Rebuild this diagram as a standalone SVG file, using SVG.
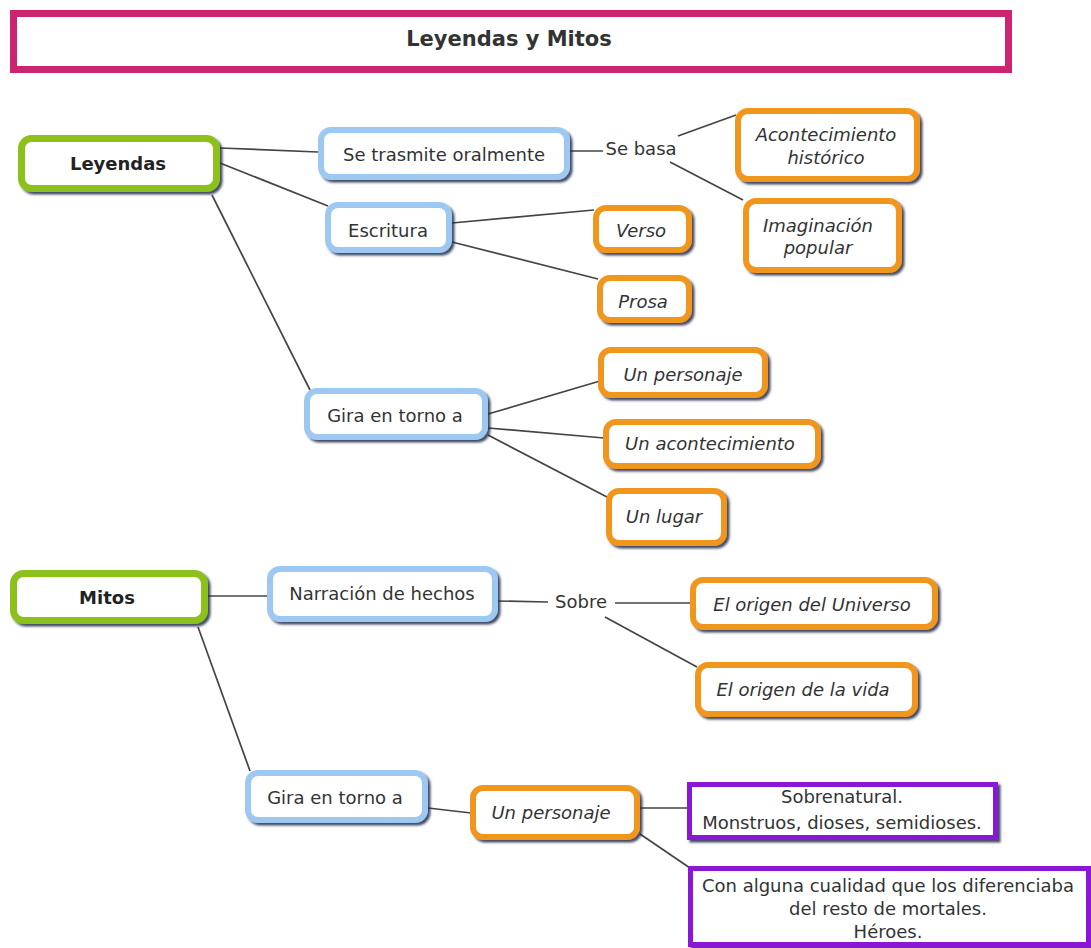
<svg xmlns="http://www.w3.org/2000/svg" width="1091" height="948" viewBox="0 0 1091 948">
<defs>
<filter id="sh" x="-10%" y="-20%" width="130%" height="150%">
<feDropShadow dx="2.5" dy="2.5" stdDeviation="1" flood-color="#1c2a4a" flood-opacity="0.85"/>
</filter>
<style>
text{font-family:"DejaVu Sans","Verdana",sans-serif;font-size:18px;fill:#333;text-anchor:middle}
.b{font-weight:bold;fill:#222}
.i{font-style:italic}
.title{font-weight:bold;font-size:21px;fill:#333}
.green{fill:#fff;stroke:#8cc11f;stroke-width:7;filter:url(#sh)}
.blue{fill:#fff;stroke:#9cc8f2;stroke-width:6;filter:url(#sh)}
.orange{fill:#fff;stroke:#f0961c;stroke-width:6;filter:url(#sh)}
.purple{fill:#fff;stroke:#8a12d6;stroke-width:5;filter:url(#sh)}
.lbl{fill:#333}
#connectors line{stroke:#444;stroke-width:1.7}
</style>
</defs>
<rect width="1091" height="948" fill="#fff"/>
<g id="connectors">
<line x1="220" y1="148" x2="318" y2="152"/>
<line x1="220" y1="163" x2="328" y2="206"/>
<line x1="212" y1="195" x2="310" y2="390"/>
<line x1="570" y1="151" x2="603" y2="151"/>
<line x1="678" y1="136" x2="736" y2="115"/>
<line x1="670" y1="162" x2="743" y2="200"/>
<line x1="452" y1="223" x2="594" y2="210"/>
<line x1="452" y1="242" x2="598" y2="279"/>
<line x1="488" y1="414" x2="600" y2="381"/>
<line x1="488" y1="428" x2="604" y2="438"/>
<line x1="488" y1="435" x2="607" y2="497"/>
<line x1="208" y1="596" x2="267" y2="596"/>
<line x1="498" y1="601" x2="548" y2="602"/>
<line x1="615" y1="603" x2="691" y2="603"/>
<line x1="605" y1="617" x2="697" y2="667"/>
<line x1="198" y1="627" x2="250" y2="771"/>
<line x1="428" y1="808" x2="471" y2="813"/>
<line x1="640" y1="808" x2="688" y2="808"/>
<line x1="640" y1="834" x2="690" y2="868"/>
</g>
<g id="title"><rect x="13.5" y="13.5" width="995" height="56" fill="#fff" stroke="#cc2470" stroke-width="7"/><text class="title" x="509" y="46">Leyendas y Mitos</text></g>
<g id="leyendas"><rect class="green" x="21.5" y="138.5" width="195" height="50" rx="10"/><text class="b" x="118" y="170">Leyendas</text></g>
<g id="trasmite"><rect class="blue" x="321" y="130" width="246" height="47" rx="10"/><text x="444" y="161">Se trasmite oralmente</text></g>
<g id="sebasa"><text class="lbl" x="641" y="155">Se basa</text></g>
<g id="acontecimiento-historico"><rect class="orange" x="738" y="111" width="179" height="68" rx="10"/><text class="i" x="826" y="141">Acontecimiento</text><text class="i" x="826" y="164">histórico</text></g>
<g id="imaginacion"><rect class="orange" x="746" y="201" width="153" height="69" rx="10"/><text class="i" x="818" y="232">Imaginación</text><text class="i" x="818" y="254">popular</text></g>
<g id="escritura"><rect class="blue" x="328" y="205" width="121" height="45" rx="10"/><text x="388" y="237">Escritura</text></g>
<g id="verso"><rect class="orange" x="596" y="208" width="93" height="42" rx="10"/><text class="i" x="641" y="237">Verso</text></g>
<g id="prosa"><rect class="orange" x="600" y="278" width="89" height="42" rx="10"/><text class="i" x="643" y="308">Prosa</text></g>
<g id="gira1"><rect class="blue" x="307" y="391" width="178" height="46" rx="10"/><text x="395" y="422">Gira en torno a</text></g>
<g id="personaje1"><rect class="orange" x="601" y="350" width="164" height="45" rx="10"/><text class="i" x="683" y="381">Un personaje</text></g>
<g id="acontecimiento"><rect class="orange" x="606" y="422" width="212" height="44" rx="10"/><text class="i" x="710" y="450">Un acontecimiento</text></g>
<g id="lugar"><rect class="orange" x="609" y="491" width="115" height="52" rx="10"/><text class="i" x="664" y="523">Un lugar</text></g>
<g id="mitos"><rect class="green" x="13.5" y="573.5" width="191" height="47" rx="10"/><text class="b" x="107" y="604">Mitos</text></g>
<g id="narracion"><rect class="blue" x="270" y="569" width="225" height="50" rx="10"/><text x="382" y="600">Narración de hechos</text></g>
<g id="sobre"><text class="lbl" x="581" y="608">Sobre</text></g>
<g id="universo"><rect class="orange" x="693" y="580" width="242" height="47" rx="10"/><text class="i" x="812" y="611">El origen del Universo</text></g>
<g id="vida"><rect class="orange" x="698" y="665" width="217" height="49" rx="10"/><text class="i" x="803" y="696">El origen de la vida</text></g>
<g id="gira2"><rect class="blue" x="248" y="773" width="177" height="47" rx="10"/><text x="335" y="804">Gira en torno a</text></g>
<g id="personaje2"><rect class="orange" x="473" y="788" width="164" height="49" rx="10"/><text class="i" x="551" y="819">Un personaje</text></g>
<g id="sobrenatural"><rect class="purple" x="689.5" y="784.5" width="306" height="53"/><text x="842" y="803">Sobrenatural.</text><text x="842" y="829">Monstruos, dioses, semidioses.</text></g>
<g id="heroes"><rect class="purple" x="690.5" y="868.5" width="398" height="76"/><text x="888" y="892">Con alguna cualidad que los diferenciaba</text><text x="888" y="915">del resto de mortales.</text><text x="888" y="938">Héroes.</text></g>
</svg>
